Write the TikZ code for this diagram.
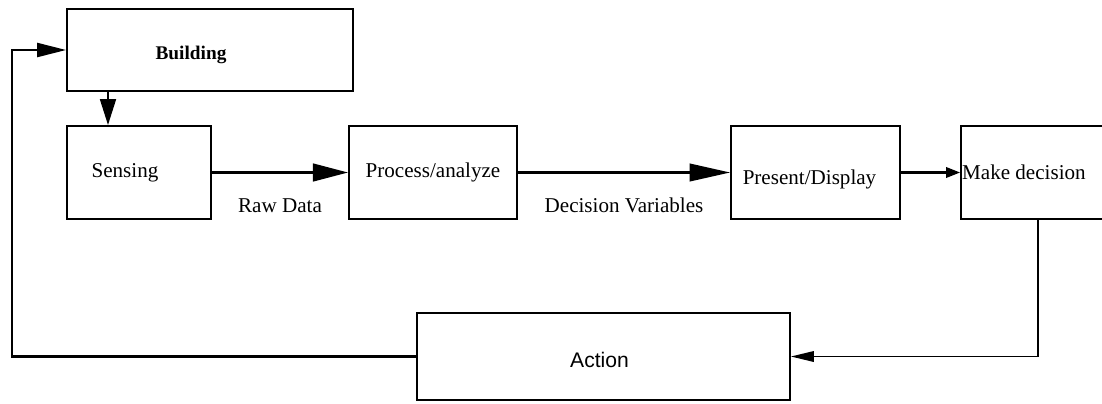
\documentclass[tikz,border=0pt]{standalone}
\usepackage{fontspec}
\setmainfont{Liberation Serif}
\newfontfamily\arialfont{Liberation Sans}
\usetikzlibrary{arrows.meta, calc, positioning}

\begin{document}
\begin{tikzpicture}[x=0.02cm, y=-0.02cm,
    box/.style={draw, line width=1.1pt, inner sep=0pt},
    txt/.style={font=\fontsize{12}{14}\selectfont},
    flow/.style={line width=1.2pt},
    heavy/.style={line width=1.6pt}]
    \useasboundingbox (0,0) rectangle (1102,403);

    % Blocks
    \node[box, minimum width=5.72cm, minimum height=1.64cm,
        label={[shift={(-19,5)}, font=\fontsize{11}{13}\selectfont\bfseries]center:Building}] (building) at (210,50) {};
    \node[box, minimum width=2.88cm, minimum height=1.86cm,
        label={[shift={(-14,0)}, txt]center:Sensing}] (sensing) at (139,172.5) {};
    \node[box, txt, minimum width=3.36cm, minimum height=1.86cm] (process) at (433,172.5) {Process/analyze};
    \node[box, minimum width=3.38cm, minimum height=1.86cm,
        label={[shift={(-6,7)}, txt]center:Present/Display}] (present) at (815.5,172.5) {};
    \node[box, minimum width=3.08cm, minimum height=1.86cm,
        label={[anchor=west, inner sep=1pt, txt]west:Make decision}] (decide) at (1038,172.5) {};
    \node[box, minimum width=7.46cm, minimum height=1.74cm,
        label={[shift={(-4,3)}, font=\arialfont\fontsize{12}{14}\selectfont]center:Action}] (action) at (603.5,356.5) {};

    \coordinate (bx) at (108,0);
    \coordinate (lx) at (12,0);

    % Forward path
    \draw[flow, -{Triangle[length=14.7pt, width=9pt]}] (building.south -| bx) -- (sensing.north -| bx);
    \draw[heavy, -{Triangle[length=20pt, width=10pt]}] (sensing.east) -- (process.west)
        node[midway, below=0.37cm, txt] {Raw Data};
    \draw[flow, -{Triangle[length=23pt, width=10pt]}] (process.east) -- (present.west)
        node[midway, below=0.37cm, txt] {Decision Variables};
    \draw[flow, -{Triangle[length=8pt, width=6pt]}] (present.east) -- (decide.west);

    % Feedback loop
    \draw[line width=0.9pt, -{Triangle[length=13pt, width=6pt]}] (decide.south) |- (action.east);
    \draw[flow, -{Triangle[length=16.5pt, width=8pt]}] (action.west) -- (action.west -| lx) |- (building.west);
\end{tikzpicture}
\end{document}
